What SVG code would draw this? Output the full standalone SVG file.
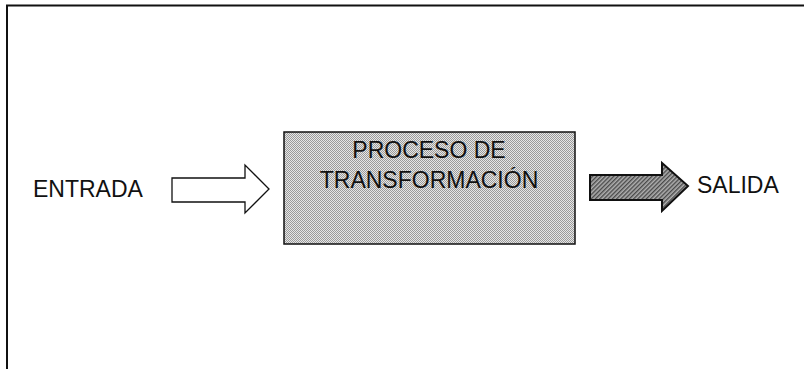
<svg xmlns="http://www.w3.org/2000/svg" width="804" height="369" viewBox="0 0 804 369">
<defs>
<pattern id="dither" width="2" height="2" patternUnits="userSpaceOnUse">
<rect width="2" height="2" fill="#e6e6e6"/>
<rect width="1" height="1" fill="#9a9a9a"/>
<rect x="1" y="1" width="1" height="1" fill="#9a9a9a"/>
</pattern>
<pattern id="hatch" width="3" height="3" patternUnits="userSpaceOnUse" patternTransform="rotate(45)">
<rect width="3" height="3" fill="#b0b0b0"/>
<rect width="1.4" height="3" fill="#4a4a4a"/>
</pattern>
<style>
.lbl{font-family:"Liberation Sans",Arial,sans-serif;font-size:23px;fill:#111}
.frame{fill:none;stroke:#111;stroke-width:2}
</style>
</defs>
<rect width="804" height="369" fill="#fff"/>
<g id="frame">
<polyline class="frame" points="7,369 7,5.5 804,5.5"/>
</g>
<g id="entrada">
<text class="lbl" x="33" y="197">ENTRADA</text>
</g>
<g id="proceso">
<rect x="284" y="132" width="291" height="112" fill="url(#dither)" stroke="#111" stroke-width="1.5"/>
<text class="lbl" x="429" y="158" text-anchor="middle">PROCESO DE</text>
<text class="lbl" x="429" y="188" text-anchor="middle">TRANSFORMACIÓN</text>
</g>
<g id="salida">
<text class="lbl" x="697" y="193">SALIDA</text>
</g>
<g id="connectors">
<polygon points="172,178 245,178 245,165 269,189 245,213 245,202 172,202" fill="#fff" stroke="#111" stroke-width="1.3"/>
<polygon points="590,175 662,175 662,163 688,186 662,211 662,200 590,200" fill="url(#hatch)" stroke="#111" stroke-width="2"/>
</g>
</svg>
